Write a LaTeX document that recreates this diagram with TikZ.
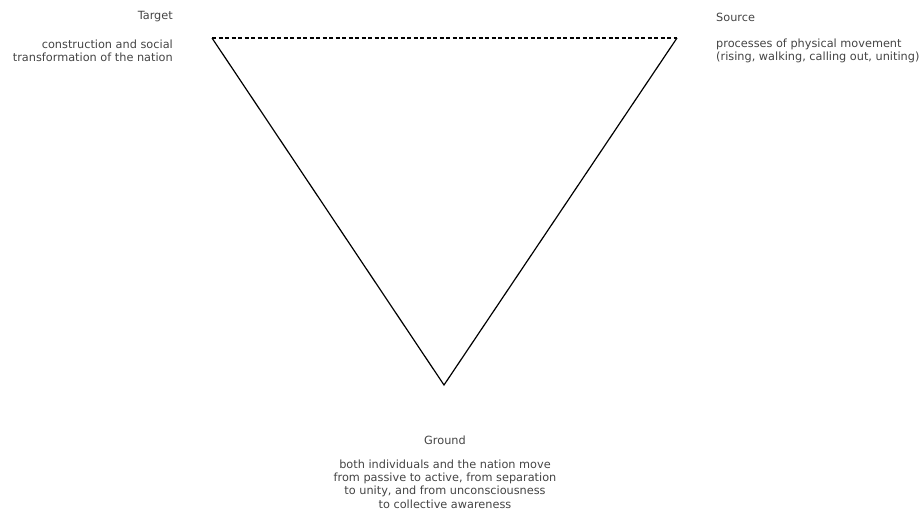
\documentclass[tikz,border=0pt]{standalone}
\usepackage{fontspec}
\setmainfont{DejaVu Sans}
\usetikzlibrary{positioning}

\definecolor{labelgrey}{HTML}{444444}

\tikzset{
  head/.style={text=labelgrey, font=\fontsize{11.3}{13}\selectfont, inner sep=0pt},
  body/.style={text=labelgrey, font=\fontsize{11.3}{13.3}\selectfont, inner sep=0pt},
  edge/.style={black, line width=1.2pt},
}

\begin{document}
\begin{tikzpicture}[x=1pt,y=-1pt]

            % frame of the picture
            \useasboundingbox (0,0) rectangle (923,512);

            % corners of the triangle
            \coordinate (target) at (212,38);
            \coordinate (source) at (677,38);
            \coordinate (ground) at (444,385);

            % sides
            \draw[edge] (target) -- (ground) -- (source);
            \draw[edge, dash pattern=on 4pt off 2.5pt] (target) -- (source);

            % Target labels
            \node[head, anchor=east] (targethead) at (173,17) {Target};
            \node[body, anchor=east, align=right] (targettext) at (173,51)
                {construction and social\\transformation of the nation};

            % Source labels
            \node[head, anchor=west] (sourcehead) at (716,17) {Source};
            \node[body, anchor=west, align=left] (sourcetext) at (716,51)
                {processes of physical movement\\(rising, walking, calling out, uniting)};

            % Ground labels
            \node[head] (groundhead) at (445,440) {Ground};
            \node[body, align=center] (groundtext) at (445,484)
                {both individuals and the nation move\\from passive to active, from separation\\to unity, and from unconsciousness\\to collective awareness};

\end{tikzpicture}
\end{document}
